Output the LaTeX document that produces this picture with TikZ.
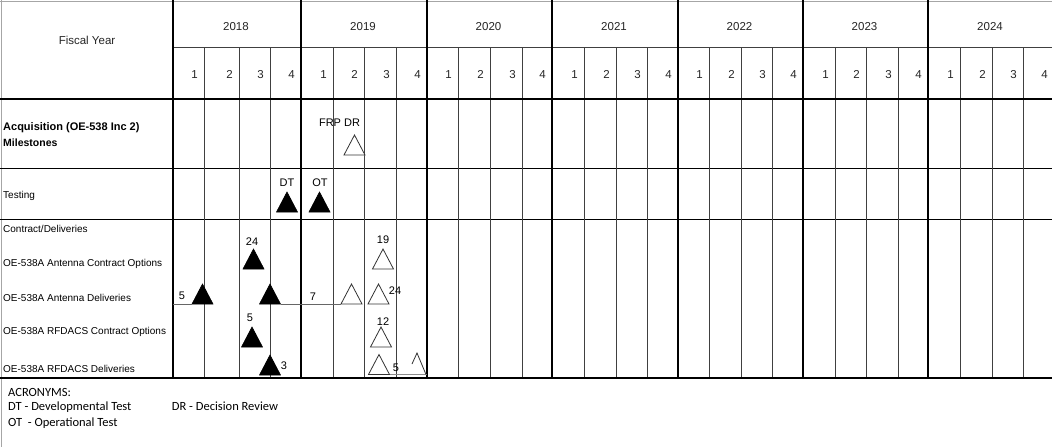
\documentclass[tikz,border=0pt]{standalone}
\usepackage{fontspec}
\setmainfont{Liberation Sans}
\newfontfamily\acrfont{Carlito}
\begin{document}
\begin{tikzpicture}[x=1pt,y=-1pt,
  yearline/.style={line width=1.8pt, black},
  qline/.style={line width=0.9pt, black!75},
  hline/.style={line width=1pt, black},
  thickh/.style={line width=1.8pt, black},
  border/.style={line width=1pt, black!35},
  conn/.style={line width=0.9pt, black!60},
  hdr/.style={font=\fontsize{11.5}{13}\selectfont, anchor=base, inner sep=0pt, text=black!85},
  lbl/.style={font=\fontsize{10}{12}\selectfont, anchor=base west, inner sep=0pt},
  blbl/.style={font=\bfseries\fontsize{11}{13}\selectfont, anchor=base west, inner sep=0pt},
  tlbl/.style={font=\fontsize{11}{13}\selectfont, anchor=base, inner sep=0pt},
  acr/.style={font=\acrfont\fontsize{12.5}{14}\selectfont, anchor=base west, inner sep=0pt},
  filled/.style={draw=black, fill=black, line width=0.6pt},
  open/.style={draw=black!80, fill=white, line width=0.8pt},
  mstone/.pic={\path[pic actions] (-10.5,0) coordinate (-bl) -- (0,-20) coordinate (-apex) -- (10.5,0) coordinate (-br) -- cycle;}
]
\useasboundingbox (0,0) rectangle (1052,447);
\fill[white] (0,0) rectangle (1052,447);

% borders and horizontal rules
\draw[border] (0,1) -- (1052,1);
\draw[border] (1,0) -- (1,447);
\draw[qline] (173,47) -- (1052,47);
\draw[hline] (0,168) -- (1052,168);
\draw[hline] (0,219) -- (1052,219);

% quarter lines, year lines, header numbers
\foreach \yr/\a/\b/\c/\d in {2018/204/239/270/301, 2019/333/364/396/427, 2020/458/490/522/552, 2021/584/616/647/678, 2022/709/741/772/803, 2023/835/866/898/928, 2024/960/992/1023/1054}{
  \foreach \xq in {\a,\b,\c}{ \draw[qline] (\xq,47) -- (\xq,378); }
  \foreach \q/\xe in {1/\a,2/\b,3/\c,4/\d}{ \node[hdr] (q\yr-\q) at (\xe-9.5,78) {\q}; }
}
\foreach \xy in {173,301,427,552,678,803,928}{ \draw[yearline] (\xy,0) -- (\xy,378); }
\foreach \yr/\xl/\xr in {2018/173/301, 2019/301/427, 2020/427/552, 2021/552/678, 2022/678/803, 2023/803/928, 2024/928/1054}{
  \node[hdr] (y\yr) at ({(\xl+\xr)/2-1},30.7) {\yr};
}
\draw[thickh] (0,99) -- (1052,99);
\draw[thickh] (0,378) -- (1052,378);

\node[hdr] (fy) at (87,44) {Fiscal Year};

% left labels
\node[blbl] (acq) at (3,130.5) {Acquisition (OE-538 Inc 2)};
\node[blbl, font=\bfseries\fontsize{10.5}{12}\selectfont] (mil) at (3,146.7) {Milestones};
\node[lbl] (tst) at (3,198.5) {Testing};
\node[lbl] (cd) at (3,232.5) {Contract/Deliveries};
\node[lbl] (aco) at (3,266.5) {OE-538A Antenna Contract Options};
\node[lbl] (adl) at (3,301) {OE-538A Antenna Deliveries};
\node[lbl] (rco) at (3,334) {OE-538A RFDACS Contract Options};
\node[lbl] (rdl) at (3,372) {OE-538A RFDACS Deliveries};

% milestones
\pic[open] (frp) at (354.5,155) {mstone};
\node[tlbl] (frpl) at (339.5,126.7) {FRP DR};
\pic[filled] (dt) at (287,212) {mstone};
\node[tlbl] (dtl) at (287,186) {DT};
\pic[filled] (ot) at (319.5,212) {mstone};
\node[tlbl] (otl) at (320,186) {OT};

% antenna contract options
\pic[filled] (ac1) at (253.5,269) {mstone};
\node[tlbl] (ac1l) at (252,245) {24};
\pic[open] (ac2) at (383,269) {mstone};
\node[tlbl] (ac2l) at (383,243.3) {19};

% antenna deliveries
\pic[filled] (ad1) at (202.5,304) {mstone};
\pic[filled] (ad2) at (270,304) {mstone};
\pic[open] (ad3) at (351.5,304) {mstone};
\pic[open] (ad4) at (378.5,304) {mstone};
\coordinate (adstart) at (173,304);
\draw[conn] (adstart) -- (ad1-bl);
\draw[conn] (ad2-br) -- (ad3-bl);
\node[tlbl] (ad1l) at (182,299.5) {5};
\node[tlbl] (ad3l) at (313,300) {7};
\node[tlbl] (ad4l) at (395,294) {24};

% RFDACS contract options
\pic[filled] (rc1) at (252,347) {mstone};
\node[tlbl] (rc1l) at (250,321.7) {5};
\pic[open] (rc2) at (381,347) {mstone};
\node[tlbl] (rc2l) at (383,325) {12};

% RFDACS deliveries
\coordinate (rdA) at (369,374.5);
\coordinate (rdB) at (427,374.5);
\draw[conn, black!45] (rdA) -- (rdB);
\pic[filled] (rd1) at (270,375) {mstone};
\node[tlbl] (rd1l) at (284,369) {3};
\pic[open] (rd2) at (379,374.5) {mstone};
\node[tlbl] (rd2l) at (396,371.7) {5};
\draw[open, fill=none] (412,364) -- (417,353) -- (426,374.5);

% acronyms
\node[acr] (acrh) at (8,396.7) {ACRONYMS:};
\node[acr] (acdt) at (8,410.7) {DT - Developmental Test};
\node[acr] (acdr) at (171.7,410.7) {DR - Decision Review};
\node[acr] (acot) at (8,426) {OT\ \ - Operational Test};
\end{tikzpicture}
\end{document}
